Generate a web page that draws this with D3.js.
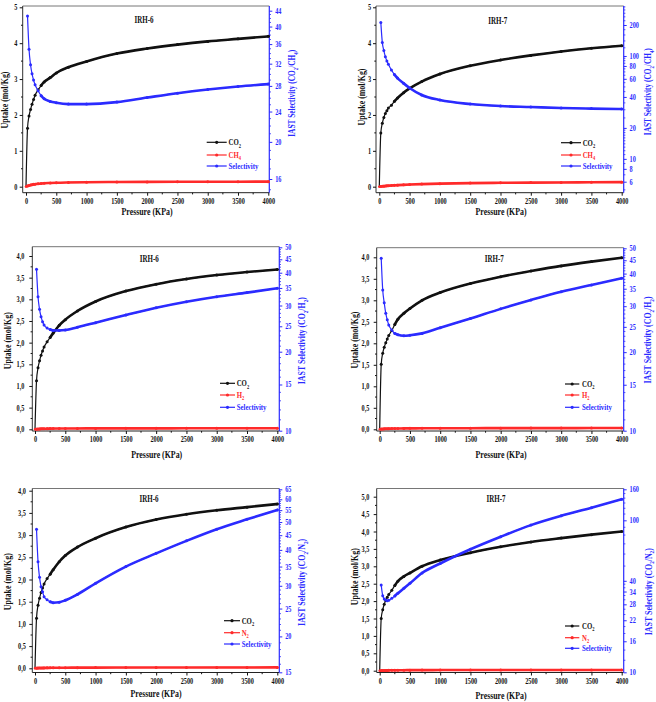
<!DOCTYPE html>
<html><head><meta charset="utf-8">
<script src="https://cdn.jsdelivr.net/npm/d3@7"></script>
<style>body{margin:0;background:#fff}</style></head>
<body><svg id="c" width="656" height="702"></svg>
<script>
// ---------------- DATA ----------------
const PRESSURE = [0,25,50,75,100,125,150,200,250,300,400,500,700,1000,1500,2000,2500,3000,3500,4000];
const X_TICKS = [0,500,1000,1500,2000,2500,3000,3500,4000];

const co2_IRH6_a = [0,1.63,1.97,2.15,2.30,2.43,2.55,2.70,2.82,2.92,3.04,3.17,3.33,3.49,3.71,3.85,3.96,4.05,4.12,4.19];
const ch4_IRH6   = [0,0.02,0.035,0.045,0.055,0.065,0.07,0.08,0.088,0.095,0.103,0.11,0.118,0.125,0.13,0.134,0.137,0.139,0.14,0.141];
const sel_IRH6_CH4 = [null,42.6,34.9,31.8,30.1,29.0,28.2,27.2,26.4,25.9,25.5,25.3,25.1,25.1,25.4,26.1,26.8,27.4,27.9,28.3];

const co2_IRH7_a = [0,1.50,1.77,1.93,2.04,2.12,2.19,2.27,2.38,2.47,2.62,2.74,2.93,3.14,3.37,3.53,3.66,3.77,3.86,3.93];
const ch4_IRH7   = [0,0.008,0.012,0.016,0.02,0.024,0.027,0.033,0.038,0.043,0.052,0.06,0.072,0.085,0.1,0.108,0.114,0.119,0.123,0.127];
const sel_IRH7_CH4 = [null,212,135,113,98.5,89.5,83,73,66,61,54.3,48.8,41.8,37.3,34.1,32.6,31.9,31.2,30.8,30.5];

const co2_IRH6_b = [0,1.12,1.42,1.58,1.71,1.81,1.90,2.02,2.12,2.22,2.40,2.53,2.73,2.95,3.19,3.35,3.47,3.56,3.63,3.69];
const h2_IRH6    = [0,0.004,0.007,0.009,0.011,0.012,0.013,0.015,0.016,0.017,0.018,0.019,0.02,0.021,0.022,0.022,0.023,0.023,0.023,0.023];
const sel_IRH6_H2 = [null,41.2,32.4,29.0,27.2,26.0,25.3,24.6,24.3,24.1,24.1,24.2,24.8,25.8,27.6,29.4,31.0,32.4,33.6,34.9];

const co2_IRH7_b = [0,1.51,1.77,1.91,2.01,2.10,2.18,2.30,2.44,2.56,2.70,2.81,3.00,3.18,3.39,3.55,3.68,3.80,3.90,3.99];
const h2_IRH7    = [0,0.005,0.008,0.01,0.012,0.014,0.015,0.017,0.018,0.019,0.021,0.022,0.023,0.025,0.026,0.027,0.028,0.028,0.029,0.03];
const sel_IRH7_H2 = [null,45.8,34.6,30.9,28.2,26.6,25.4,24.3,23.6,23.3,23.1,23.2,23.6,24.8,26.9,29.3,31.7,34.1,36.2,38.4];

const co2_IRH6_c = [0,1.13,1.42,1.58,1.71,1.81,1.90,2.02,2.12,2.22,2.40,2.54,2.73,2.93,3.18,3.35,3.47,3.56,3.63,3.70];
const n2_IRH6    = [0,0.003,0.005,0.006,0.007,0.008,0.009,0.01,0.011,0.012,0.013,0.014,0.015,0.016,0.017,0.018,0.018,0.019,0.019,0.02];
const sel_IRH6_N2 = [null,47.2,36.4,32.1,29.8,28.6,27.5,26.8,26.4,26.2,26.3,26.7,28.0,30.6,35.0,38.9,43.0,47.2,51.1,55.1];

const co2_IRH7_c = [0,1.50,1.75,1.91,2.02,2.11,2.19,2.31,2.45,2.57,2.71,2.81,3.00,3.18,3.39,3.56,3.70,3.81,3.91,4.00];
const n2_IRH7    = [0,0.003,0.005,0.007,0.008,0.009,0.01,0.012,0.013,0.014,0.015,0.016,0.017,0.018,0.019,0.02,0.02,0.021,0.021,0.022];
const sel_IRH7_N2 = [null,37.5,31.9,30.4,29.9,29.6,29.8,30.7,31.8,33.1,35.7,38.5,45.0,52.0,64.5,78,93,107,121,137.6];

const LEFT_TICKS_INT5 = [0,1,2,3,4,5];
const LEFT_TICKS_HALF4 = [0,0.5,1,1.5,2,2.5,3,3.5,4];
const LEFT_TICKS_HALF5 = [0,0.5,1,1.5,2,2.5,3,3.5,4,4.5,5];
const RIGHT_TICKS_IRH6_CH4 = [16,20,24,28,32,36,40,44];
const RIGHT_TICKS_IRH7_CH4 = [6,8,10,20,40,60,80,100,200];
const RIGHT_TICKS_H2 = [10,15,20,25,30,35,40,45,50];
const RIGHT_TICKS_IRH6_N2 = [15,20,25,30,35,40,45,50,55,60,65];
const RIGHT_TICKS_IRH7_N2 = [10,16,22,28,34,40,100,160];

// ---------------- LAYOUT ----------------
const FONT = "'Liberation Serif','Times New Roman',serif";
const BLUE = "#2b2bff", RED = "#ff2a2a", BLACK = "#111";
const SX = 0.8;
const svg = d3.select('#c');

const panels = [
 {title:"IRH-6", gas:"CH_4", co2:co2_IRH6_a, gasV:ch4_IRH6, sel:sel_IRH6_CH4,
  box:[22.7,269.3,6,192.7], xr:[26,268.3],
  yL:{dom:[0,5], r:[186.7,7.3], ticks:LEFT_TICKS_INT5, minor:0.5, comma:false, gap:5.4},
  yR:{dom:[16,44], r:[179,10.7], ticks:RIGHT_TICKS_IRH6_CH4, minor:[[14,45,1]]},
  t:[144,20], leg:{x1:206.7,x2:226.7,tx:228.5,ys:[142.3,155,166]},
  xl:[147,212], yl:[5,100], rl:[291.7,93.3]},
 {title:"IRH-7", gas:"CH_4", co2:co2_IRH7_a, gasV:ch4_IRH7, sel:sel_IRH7_CH4,
  box:[376,623.7,6,192.7], xr:[379.3,621.7],
  yL:{dom:[0,5], r:[186.7,7.3], ticks:LEFT_TICKS_INT5, minor:0.5, comma:false, gap:5},
  yR:{dom:[6,200], r:[181.7,25], ticks:RIGHT_TICKS_IRH7_CH4, minor:[[5,20,1],[20,100,5],[100,310,20]]},
  t:[497.7,20.7], leg:{x1:561,x2:581,tx:582.7,ys:[142.7,155,166]},
  xl:[501,211.7], yl:[362,97], rl:[647.7,91.7]},
 {title:"IRH-6", gas:"H_2", co2:co2_IRH6_b, gasV:h2_IRH6, sel:sel_IRH6_H2,
  box:[32.3,279.3,246.7,431], xr:[35,277.3],
  yL:{dom:[0,4], r:[429.3,256], ticks:LEFT_TICKS_HALF4, minor:0.25, comma:true, gap:8},
  yR:{dom:[10,50], r:[430.7,247.3], ticks:RIGHT_TICKS_H2, minor:[[10,51,1]]},
  t:[149.3,258.3], leg:{x1:220,x2:235,tx:236.7,ys:[383.3,395,407.3]},
  xl:[156.7,455], yl:[7.3,340.7], rl:[301.7,340.7]},
 {title:"IRH-7", gas:"H_2", co2:co2_IRH7_b, gasV:h2_IRH7, sel:sel_IRH7_H2,
  box:[376.7,623.7,247.7,431], xr:[379.7,621.7],
  yL:{dom:[0,4], r:[429.3,257.3], ticks:LEFT_TICKS_HALF4, minor:0.25, comma:true, gap:7.4},
  yR:{dom:[10,50], r:[430.7,248.3], ticks:RIGHT_TICKS_H2, minor:[[10,51,1]]},
  t:[494.3,258.3], leg:{x1:565,x2:579.3,tx:582,ys:[384,395,407.3]},
  xl:[501,455], yl:[354.3,340], rl:[647.7,340]},
 {title:"IRH-6", gas:"N_2", co2:co2_IRH6_c, gasV:n2_IRH6, sel:sel_IRH6_N2,
  box:[32.3,279.3,488.5,672.5], xr:[35,277.3],
  yL:{dom:[0,4], r:[668.3,490.7], ticks:LEFT_TICKS_HALF4, minor:0.25, comma:true, gap:6.5},
  yR:{dom:[15,65], r:[672.3,489.3], ticks:RIGHT_TICKS_IRH6_N2, minor:[[15,66,1]]},
  t:[149,498.3], leg:{x1:224,x2:240,tx:241.7,ys:[620.7,632.7,644]},
  xl:[156,694], yl:[7.3,581.7], rl:[301.7,582.4]},
 {title:"IRH-7", gas:"N_2", co2:co2_IRH7_c, gasV:n2_IRH7, sel:sel_IRH7_N2,
  box:[376.7,623.7,488.5,672.5], xr:[379.7,621.7],
  yL:{dom:[0,5], r:[670.7,496.7], ticks:LEFT_TICKS_HALF5, minor:0.25, comma:true, gap:7.4},
  yR:{dom:[10,160], r:[672.3,489.3], ticks:RIGHT_TICKS_IRH7_N2, minor:[[10,40,2],[40,161,10]]},
  t:[496,498.3], leg:{x1:565,x2:579.3,tx:582,ys:[626,637.7,648.3]},
  xl:[501,695.7], yl:[354.3,576.7], rl:[648.2,591.7]}
];

function rich(t, s, fs) {
  const segs = []; let cur = '';
  for (let i = 0; i < s.length; i++) {
    if (s[i] === '_') { if (cur) segs.push({t:cur, sub:false}); cur=''; segs.push({t:s[i+1], sub:true}); i++; }
    else cur += s[i];
  }
  if (cur) segs.push({t:cur, sub:false});
  let down = false;
  segs.forEach(g => {
    const ts = t.append('tspan').text(g.t);
    if (g.sub) { ts.attr('font-size', fs*0.65).attr('dy', fs*0.28); down = true; }
    else if (down) { ts.attr('dy', -fs*0.28); down = false; }
  });
}

function label(g, x, y, s, o) {
  const fs = o.fs || 9.5;
  const t = g.append('text')
    .attr('transform', `translate(${x},${y})` + (o.rot ? ' rotate(-90)' : '') + (o.len ? '' : ` scale(${SX},1)`))
    .attr('text-anchor', o.anchor || 'middle').attr('dy', '0.35em')
    .attr('font-family', FONT).attr('font-weight', 'bold').attr('font-size', fs)
    .attr('fill', o.color || BLACK);
  if (o.len) t.attr('textLength', o.len).attr('lengthAdjust', 'spacingAndGlyphs');
  rich(t, s, fs);
  return t;
}

function styleTicks(sel, color) {
  sel.selectAll('text').attr('font-family', FONT).attr('font-weight','bold')
     .attr('font-size', 7.8).attr('fill', color).attr('transform', `scale(${SX},1)`);
  sel.selectAll('.tick line').attr('stroke', color);
  sel.select('.domain').remove();
}

panels.forEach(p => {
  const g = svg.append('g');
  const [L,R,T,B] = p.box;
  const x = d3.scaleLinear().domain([0,4000]).range(p.xr);
  const yL = d3.scaleLinear().domain(p.yL.dom).range(p.yL.r);
  const yR = d3.scaleLog().domain(p.yR.dom).range(p.yR.r);

  // frame
  g.append('line').attr('x1',L).attr('x2',R).attr('y1',T).attr('y2',T).attr('stroke','#666').attr('stroke-width',0.9);
  g.append('line').attr('x1',L).attr('x2',R).attr('y1',B).attr('y2',B).attr('stroke','#222').attr('stroke-width',1);
  g.append('line').attr('x1',L).attr('x2',L).attr('y1',T).attr('y2',B).attr('stroke','#333').attr('stroke-width',1);
  g.append('line').attr('x1',R).attr('x2',R).attr('y1',T).attr('y2',B).attr('stroke',BLUE).attr('stroke-width',1.2);

  // bottom axis
  const gx = g.append('g').attr('transform',`translate(0,${B})`)
    .call(d3.axisBottom(x).tickValues(X_TICKS).tickSize(3).tickPadding(2.5).tickFormat(d3.format('d')));
  styleTicks(gx, BLACK);
  g.append('g').selectAll('line').data(d3.range(250,4000,500)).join('line')
    .attr('x1', d=>x(d)).attr('x2', d=>x(d)).attr('y1', B).attr('y2', B+1.7).attr('stroke', BLACK);

  // left axis
  const fmtL = p.yL.comma ? (d => d3.format('.1f')(d).replace('.', ',')) : d3.format('d');
  const gl = g.append('g').attr('transform',`translate(${L},0)`)
    .call(d3.axisLeft(yL).tickValues(p.yL.ticks).tickSize(3).tickPadding(p.yL.gap/SX - 3).tickFormat(fmtL));
  styleTicks(gl, BLACK);
  const lmin = d3.range(p.yL.dom[0], p.yL.dom[1] + 1e-9, p.yL.minor).filter(v => !p.yL.ticks.some(t => Math.abs(t-v) < 1e-9));
  g.append('g').selectAll('line').data(lmin).join('line')
    .attr('x1', L).attr('x2', L-1.7).attr('y1', d=>yL(d)).attr('y2', d=>yL(d)).attr('stroke', BLACK);

  // right axis (log)
  const gr = g.append('g').attr('transform',`translate(${R},0)`)
    .call(d3.axisRight(yR).tickValues(p.yR.ticks).tickSize(3).tickPadding(3.5/SX).tickFormat(d3.format('d')));
  styleTicks(gr, BLUE);
  const rmin = [];
  p.yR.minor.forEach(([a,b,s]) => d3.range(a,b,s).forEach(v => rmin.push(v)));
  const [rlo, rhi] = [yR.invert(B), yR.invert(T)];
  g.append('g').selectAll('line').data(rmin.filter(v => v >= rlo && v <= rhi && !p.yR.ticks.includes(v))).join('line')
    .attr('x1', R).attr('x2', R+1.7).attr('y1', d=>yR(d)).attr('y2', d=>yR(d)).attr('stroke', BLUE).attr('stroke-width',0.8);

  // series
  const mk = (vals) => PRESSURE.map((pp,i) => ({p:pp, v:vals[i]})).filter(d => d.v !== null);
  const series = [
    {d: mk(p.co2), y: yL, c: BLACK, thickFrom: 250},
    {d: mk(p.gasV), y: yL, c: RED, thickFrom: 0},
    {d: mk(p.sel), y: yR, c: BLUE, thickFrom: 250}
  ];
  series.forEach(s => {
    const line = d3.line().x(d => x(d.p)).y(d => s.y(d.v)).curve(d3.curveMonotoneX);
    g.append('path').datum(s.d).attr('d', line).attr('fill','none').attr('stroke', s.c)
      .attr('stroke-width', 1.2).attr('stroke-linejoin','round');
    g.append('path').datum(s.d.filter(d => d.p >= s.thickFrom)).attr('d', line).attr('fill','none').attr('stroke', s.c)
      .attr('stroke-width', 2.6).attr('stroke-linejoin','round').attr('stroke-linecap','round');
    g.append('g').selectAll('circle').data(s.d.filter(d => d.p > 0)).join('circle')
      .attr('cx', d => x(d.p)).attr('cy', d => s.y(d.v)).attr('r', 1.5).attr('fill', s.c);
  });

  // title
  label(g, p.t[0], p.t[1], p.title, {fs:9.5, len:19});
  // axis titles
  label(g, p.xl[0], p.xl[1], "Pressure (KPa)", {fs:9.5, len:51});
  label(g, p.yl[0], p.yl[1], "Uptake (mol/Kg)", {fs:9.5, len:57, rot:true});
  label(g, p.rl[0], p.rl[1], "IAST Selectivity (CO_2/" + p.gas + ")", {fs:9.5, len:87, rot:true, color:BLUE});

  // legend
  const items = [["CO_2", BLACK], [p.gas, RED], ["Selectivity", BLUE]];
  items.forEach(([txt, col], i) => {
    const yy = p.leg.ys[i];
    g.append('line').attr('x1', p.leg.x1).attr('x2', p.leg.x2).attr('y1', yy).attr('y2', yy)
      .attr('stroke', col).attr('stroke-width', 1.2);
    g.append('circle').attr('cx', (p.leg.x1 + p.leg.x2)/2).attr('cy', yy).attr('r', 1.6).attr('fill', col);
    label(g, p.leg.tx, yy, txt, {fs:8.5, anchor:'start', color: col});
  });
});
</script>
</body></html>
